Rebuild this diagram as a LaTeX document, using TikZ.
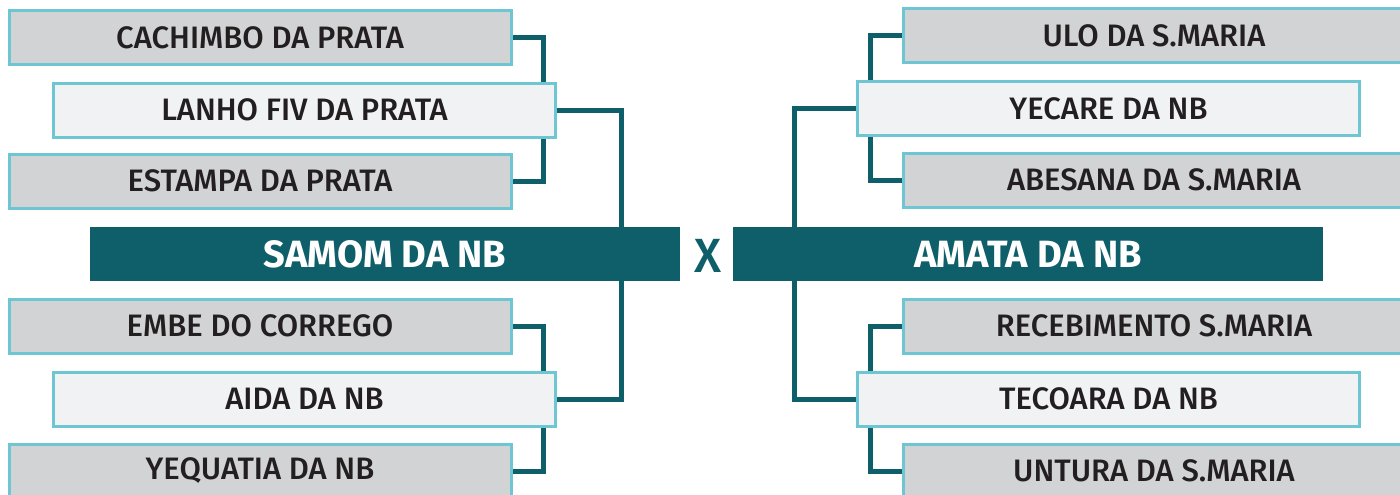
\documentclass[tikz,border=0pt]{standalone}
\usepackage{fontspec}
\setmainfont{Fira Sans}
\newfontfamily\teamfont{Fira Sans Medium}
\usepackage{xcolor}
\usetikzlibrary{positioning, calc, backgrounds}

\definecolor{tealdark}{HTML}{0E5F69}
\definecolor{cyanedge}{HTML}{6EC6D2}
\definecolor{boxgray}{HTML}{D1D3D4}
\definecolor{boxlight}{HTML}{F1F2F4}
\definecolor{inkdark}{HTML}{231F20}

\begin{document}
\begin{tikzpicture}[x=1pt, y=-1pt]
        % Styles
        \tikzset{
            teamgray/.style={draw=cyanedge, fill=boxgray, rectangle, line width=3pt, minimum width=502pt, minimum height=54pt, inner sep=0pt, text=inkdark, font=\teamfont\fontsize{31}{34}\selectfont},
            teamlight/.style={teamgray, fill=boxlight},
            finalbar/.style={fill=tealdark, rectangle, minimum width=590pt, minimum height=54pt, inner sep=0pt, text=white, font=\bfseries\fontsize{38}{40}\selectfont},
            link/.style={draw=tealdark, line width=5pt}
        }
        \useasboundingbox (0,0) rectangle (1400,495);

        % Left bracket
        \node [teamgray] (cachimbo) at (260,38) {CACHIMBO DA PRATA};
        \node [teamlight] (lanho) at (304.5,110) {LANHO FIV DA PRATA};
        \node [teamgray] (estampa) at (260,181) {ESTAMPA DA PRATA};
        \node [finalbar] (samom) at (385,254) {SAMOM DA NB};
        \node [teamgray] (embe) at (260,326) {EMBE DO CORREGO};
        \node [teamlight] (aida) at (304.5,399) {AIDA DA NB};
        \node [teamgray] (yequatia) at (260,471) {YEQUATIA DA NB};

        % Right bracket
        \node [teamgray] (ulo) at (1154,36) {ULO DA S.MARIA};
        \node [teamlight] (yecare) at (1108.5,108.5) {YECARE DA NB};
        \node [teamgray] (abesana) at (1154,180) {ABESANA DA S.MARIA};
        \node [finalbar] (amata) at (1028,254) {AMATA DA NB};
        \node [teamgray] (recebimento) at (1154,326) {RECEBIMENTO S.MARIA};
        \node [teamlight] (tecoara) at (1108.5,399) {TECOARA DA NB};
        \node [teamgray] (untura) at (1154,471) {UNTURA DA S.MARIA};

        % Versus mark
        \node [text=tealdark, font=\teamfont\fontsize{48}{50}\selectfont, inner sep=0pt] (versus) at (708,256) {X};

        % Connectors
        \begin{scope}[on background layer]
            \draw [link] (cachimbo.east) -- ++(31,0) |- (estampa.east);
            \draw [link] (embe.east) -- ++(31,0) |- (yequatia.east);
            \draw [link] (lanho.east) -- ++(64,0) |- (aida.east);
            \draw [link] (ulo.west) -- ++(-31,0) |- (abesana.west);
            \draw [link] (recebimento.west) -- ++(-31,0) |- (untura.west);
            \draw [link] (yecare.west) -- ++(-62,0) |- (tecoara.west);
        \end{scope}
    \end{tikzpicture}
\end{document}
